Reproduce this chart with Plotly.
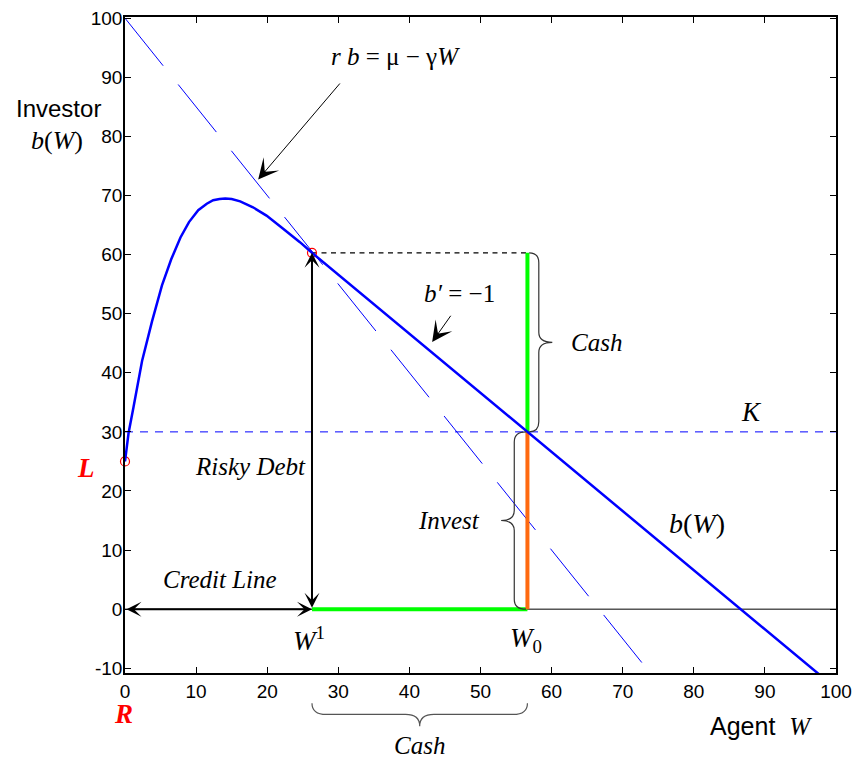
import plotly.graph_objects as go

# ---------------- data ----------------
W_curve = [0, 0.5, 1.2, 2.4, 3.8, 5.2, 6.5, 7.8, 9.0, 10.3, 11.5, 12.4, 13.3, 14.1,
           15.0, 16.2, 18.0, 19.9, 22.2, 24.6, 26.3, 100]
b_curve = [25, 29.8, 34.2, 42.0, 48.7, 54.8, 59.2, 62.9, 65.5, 67.5, 68.6, 69.2, 69.4, 69.5,
           69.4, 69.0, 68.0, 66.6, 64.4, 62.1, 60.3, -13.4]

W_rb = [0, 80]          # r b = mu - gamma W
b_rb = [100, -20]

W1 = 26.3
b1 = 60.3
W0 = 56.6
K = 30
L = 25

x_ticks = list(range(0, 101, 10))
y_ticks = list(range(-10, 101, 10))
y_ticktext = [str(v) for v in y_ticks]

XMIN, XMAX = 0, 100
YMIN, YMAX = -10.8, 100.2

SERIF = "Liberation Serif"
SANS = "Liberation Sans"

fig = go.Figure()

def line(x, y, color, width, dash=None):
    fig.add_trace(go.Scatter(x=x, y=y, mode="lines",
                             line=dict(color=color, width=width, dash=dash),
                             hoverinfo="skip", showlegend=False))

# K line
line([XMIN, XMAX], [K, K], "#0000ff", 1, "8px,7px")
# r b = mu - gamma W
line(W_rb, b_rb, "#0000ff", 1, "61px,24px")
# dashed level at b1
line([W1, W0], [b1, b1], "black", 1.2, "5px,4.5px")
# zero line
line([XMIN, XMAX], [0, 0], "black", 1)
# green cash segments
line([W1, W0], [0, 0], "#00ff00", 4)
line([W0, W0], [K, b1], "#00ff00", 4)
# orange invest segment
line([W0, W0], [0, K], "#ff6a10", 4)

# red circles
fig.add_trace(go.Scatter(x=[0, W1], y=[L, b1], mode="markers",
                         marker=dict(symbol="circle-open", size=9, color="#ff0000",
                                     line=dict(width=1.2)),
                         cliponaxis=False, hoverinfo="skip", showlegend=False))
# b(W) curve
line(W_curve, b_curve, "#0000ff", 2.5)

# ---------------- braces ----------------
def vbrace(xb, xm, xt, y0, y1, r):
    ym = (y0 + y1) / 2
    return (f"M{xb},{y0} Q{xm},{y0} {xm},{y0 - r} L{xm},{ym + r} "
            f"Q{xm},{ym} {xt},{ym} Q{xm},{ym} {xm},{ym - r} "
            f"L{xm},{y1 + r} Q{xm},{y1} {xb},{y1}")

def hbrace(x0, x1, yb, ym, yt, r):
    xm = (x0 + x1) / 2
    return (f"M{x0},{yb} Q{x0},{ym} {x0 + r},{ym} L{xm - r},{ym} "
            f"Q{xm},{ym} {xm},{yt} Q{xm},{ym} {xm + r},{ym} "
            f"L{x1 - r},{ym} Q{x1},{ym} {x1},{yb}")

def px(v):
    return (v - XMIN) / (XMAX - XMIN)

def py(v):
    return (v - YMIN) / (YMAX - YMIN)

brace_col = "#333333"
fig.add_shape(type="path", xref="x", yref="y",
              path=vbrace(W0 + 0.25, W0 + 1.6, W0 + 3.5, b1, K, 1.7),
              line=dict(color=brace_col, width=1.2))
fig.add_shape(type="path", xref="x", yref="y",
              path=vbrace(W0 - 0.2, W0 - 1.85, W0 - 3.7, K, 0, 1.7),
              line=dict(color=brace_col, width=1.2))
fig.add_shape(type="path", xref="x", yref="paper",
              path=hbrace(W1, W0, py(-15.9), py(-17.8), py(-19.8), 2.0),
              line=dict(color="#555555", width=1.2))

# ---------------- arrows ----------------
def arrow(x, y, ax, ay, width, size, both=False):
    fig.add_annotation(x=x, y=y, ax=ax, ay=ay, xref="x", yref="y", axref="x", ayref="y",
                       text="", showarrow=True, arrowhead=3, arrowsize=size,
                       arrowwidth=width, arrowcolor="black",
                       arrowside="end+start" if both else "end",
                       startarrowhead=3, startarrowsize=size)

arrow(W1, b1, W1, 0, 2, 1.25, both=True)
arrow(W1, 0, 0, 0, 2, 1.25, both=True)
arrow(18.73, 72.7, 30.4, 89.2, 1, 3.4)
arrow(43.2, 45.2, 45.96, 49.9, 1, 3.4)

# ---------------- texts ----------------
def txt(x, y, s, size=24, family=SERIF, color="black"):
    # placed in paper coordinates (converted from data values) so labels
    # outside the axes range are still shown
    fig.add_annotation(x=px(x), y=py(y), xref="paper", yref="paper", text=s,
                       showarrow=False,
                       font=dict(family=family, size=size, color=color),
                       xanchor="center", yanchor="middle")

txt(38.0, 93.5, "<i>r b</i> = μ − γ<i>W</i>", 25)
txt(47.1, 53.4, "<i>b′</i> = −1", 25)
txt(66.3, 45.1, "<i>Cash</i>", 25)
txt(45.5, 15.0, "<i>Invest</i>", 25)
txt(17.6, 24.2, "<i>Risky Debt</i>", 25)
txt(13.3, 5.0, "<i>Credit Line</i>", 25)
txt(25.9, -5.0, "<i>W</i><sup>1</sup>", 27)
txt(56.4, -5.3, "<i>W</i><sub>0</sub>", 27)
txt(88.1, 33.4, "<i>K</i>", 27)
txt(80.4, 14.5, "<i>b</i>(<i>W</i>)", 28)
txt(41.4, -23.0, "<i>Cash</i>", 25)
txt(-5.55, 23.9, "<b><i>L</i></b>", 27, color="#ff0000")
txt(-0.2, -17.8, "<b><i>R</i></b>", 27, color="#ff0000")
txt(-9.42, 84.7, "Investor", 24, SANS)
txt(-9.5, 79.3, "<i>b</i>(<i>W</i>)", 26)
txt(89.4, -19.8, "Agent  <span style='font-family:Liberation Serif'><i>W</i></span>", 25, SANS)

axis_common = dict(showgrid=False, zeroline=False, showline=True, linecolor="black",
                   linewidth=1.5, mirror="ticks", ticks="inside", ticklen=6,
                   tickcolor="black", tickwidth=1,
                   tickfont=dict(family=SANS, size=19, color="black"))

fig.update_layout(
    width=860, height=759,
    margin=dict(l=125, r=22, t=8, b=86),
    paper_bgcolor="white", plot_bgcolor="white",
    xaxis=dict(range=[XMIN, XMAX], tickvals=x_ticks, **axis_common),
    yaxis=dict(range=[YMIN, YMAX], tickvals=y_ticks, ticktext=y_ticktext,
               ticklabelstandoff=-3, **axis_common),
    showlegend=False,
)

fig.write_html("out.html")
